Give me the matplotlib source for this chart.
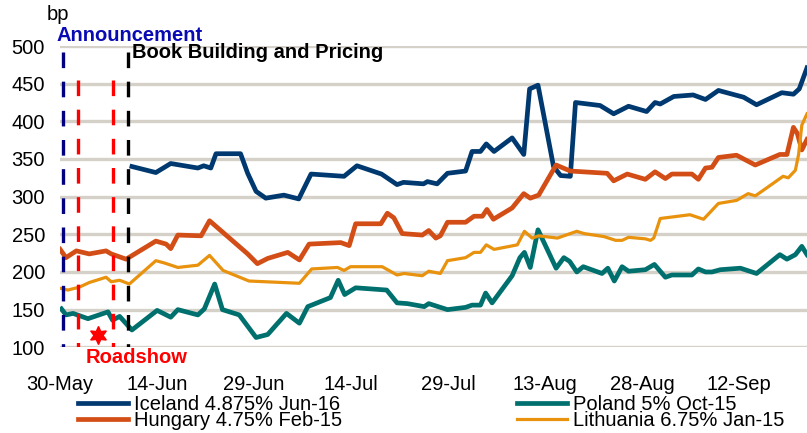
import matplotlib.pyplot as plt

plt.rcParams['font.family'] = ['Liberation Sans', 'DejaVu Sans']

# x = days since 30-May
tick_days = [0, 15, 30, 45, 60, 75, 90, 105]
tick_labels = ["30-May", "14-Jun", "29-Jun", "14-Jul", "29-Jul", "13-Aug", "28-Aug", "12-Sep"]

iceland_day = [11.1, 14.8, 17.1, 21.3, 22.2, 23.3, 24.1, 27.9, 29.0, 30.3, 31.8, 34.6, 36.9,
               38.8, 43.9, 45.9, 49.7, 52.1, 53.1, 56.2, 56.8, 58.3, 59.9, 62.7, 63.7, 65.0,
               65.9, 67.1, 69.9, 71.7, 72.6, 73.9, 76.3, 77.4, 78.9, 79.7, 83.5, 85.6, 87.9,
               90.7, 92.0, 92.8, 94.9, 97.9, 99.8, 101.8, 105.7, 107.7, 111.6, 113.4, 114.3, 115.5]
iceland_bp = [340, 332, 344, 338, 341, 338, 357, 357, 331, 307, 298, 302, 297,
              330, 327, 341, 330, 316, 319, 317, 320, 317, 331, 334, 360, 360,
              370, 360, 378, 356, 443, 448, 340, 328, 327, 425, 421, 410, 420,
              413, 425, 423, 433, 435, 429, 441, 432, 422, 438, 436, 443, 471]

hungary_day = [0, 0.9, 2.5, 4.5, 7.1, 7.9, 10.2, 14.8, 16.4, 17.1, 18.2, 21.8, 23.1, 29.0,
               30.5, 32.1, 35.2, 37.0, 38.5, 43.4, 44.7, 45.7, 49.6, 50.6, 51.6, 52.9, 56.0,
               57.0, 58.1, 58.8, 59.9, 62.7, 64.0, 65.3, 66.0, 67.0, 69.9, 71.7, 72.7, 74.0,
               76.7, 78.9, 84.6, 85.6, 87.7, 90.5, 92.0, 93.6, 94.6, 97.7, 98.7, 99.8, 100.8,
               101.8, 104.6, 107.5, 111.3, 112.4, 113.4, 114.0, 114.7, 115.5]
hungary_bp = [230, 219, 228, 224, 228, 224, 217, 241, 237, 231, 249, 248, 268, 224,
              211, 218, 226, 216, 237, 239, 235, 264, 264, 278, 272, 251, 249,
              255, 245, 248, 266, 266, 274, 274, 283, 270, 285, 304, 298, 302,
              342, 334, 331, 321, 330, 323, 333, 324, 330, 330, 323, 338, 339,
              352, 355, 342, 356, 356, 392, 384, 362, 376]

poland_day = [0.2, 0.9, 2.0, 4.3, 7.4, 8.1, 9.2, 11.1, 15.0, 17.1, 18.2, 21.3, 22.3, 23.9,
              25.1, 27.7, 30.3, 32.1, 35.0, 37.0, 38.3, 41.8, 43.0, 44.0, 45.7, 50.5, 52.1,
              53.7, 56.3, 57.0, 59.9, 62.7, 63.7, 65.0, 65.8, 66.8, 69.9, 71.1, 71.8, 72.7,
              73.9, 76.7, 77.9, 78.8, 79.9, 80.9, 83.8, 84.7, 85.7, 86.9, 87.9, 90.5, 91.9,
              93.6, 94.6, 97.7, 98.7, 99.8, 100.8, 102.1, 105.2, 107.7, 111.3, 112.4, 113.7,
              114.7, 115.5]
poland_bp = [151, 143, 145, 138, 147, 136, 141, 123, 149, 140, 150, 143, 151, 184,
             150, 143, 113, 117, 145, 132, 154, 166, 189, 170, 179, 176, 159,
             158, 154, 158, 150, 153, 156, 156, 172, 159, 195, 219, 226, 206,
             256, 205, 219, 214, 200, 207, 198, 205, 188, 207, 201, 203, 210,
             193, 196, 196, 204, 200, 200, 203, 205, 198, 223, 217, 223,
             234, 223]

lithuania_day = [0.2, 1.2, 3.0, 4.5, 7.1, 7.9, 9.2, 10.7, 14.8, 16.1, 18.2, 21.3, 23.1, 25.2,
                 29.2, 37.0, 38.9, 42.9, 43.9, 44.9, 49.8, 52.1, 53.2, 56.0, 57.0, 58.8, 59.9,
                 62.7, 64.0, 65.0, 65.9, 67.1, 70.7, 71.8, 73.0, 74.0, 76.9, 79.9, 81.0, 84.1,
                 85.9, 86.9, 87.9, 90.5, 91.3, 91.8, 92.8, 97.4, 99.5, 101.8, 104.6, 106.4,
                 107.5, 109.0, 111.8, 112.6, 113.7, 114.2, 114.7, 115.5]
lithuania_bp = [178, 176, 180, 186, 193, 187, 189, 184, 215, 212, 206, 209, 222, 202,
                188, 185, 204, 206, 202, 207, 207, 196, 198, 195, 201, 198, 215,
                219, 226, 226, 236, 230, 236, 254, 245, 248, 245, 254, 251, 247,
                242, 242, 246, 244, 242, 245, 271, 276, 270, 291, 295, 304,
                301, 310, 327, 325, 335, 356, 395, 410]

# event markers (days since 30-May)
announce_day = 0.4
roadshow_days = [2.7, 8.2]
pricing_day = 10.45
star_day, star_bp = 5.8, 116

W, H = 807, 433
fig = plt.figure(figsize=(W / 100, H / 100), dpi=100)
ax = fig.add_axes([59.5 / W, 1 - 347.3 / H, (W - 59.5) / W, (347.3 - 46) / H])


def px(x, y):
    return x / W, 1 - y / H


ax.plot(iceland_day, iceland_bp, color="#00396F", lw=3.4, label="Iceland 4.875% Jun-16", zorder=3)
ax.plot(hungary_day, hungary_bp, color="#D24E16", lw=3.4, label="Hungary 4.75% Feb-15", zorder=3)
ax.plot(poland_day, poland_bp, color="#00706F", lw=3.4, label="Poland 5% Oct-15", zorder=3)
ax.plot(lithuania_day, lithuania_bp, color="#E8920E", lw=2.3, label="Lithuania 6.75% Jan-15", zorder=3)

dash = (11.25 / 2.4, 9.75 / 2.4)
ax.plot([announce_day, announce_day], [492, 100], color="#000080", lw=2.4, dashes=dash, zorder=4)
for d in roadshow_days:
    ax.plot([d, d], [455, 100], color="#FF0000", lw=2.4, dashes=dash, zorder=4)
ax.plot([pricing_day, pricing_day], [492, 100], color="black", lw=2.4, dashes=dash, zorder=4)
ax.plot([star_day], [star_bp], marker=(6, 1, 0), color="#FF0000", ms=13, zorder=5)

ax.set_xlim(-0.1, 115.5)
ax.set_ylim(100, 500)
ax.set_yticks(range(100, 501, 50))
ax.set_xticks(tick_days)
ax.set_xticklabels(tick_labels)
ax.tick_params(length=0, labelsize=14.5)
ax.tick_params(axis="y", pad=10.5)
ax.tick_params(axis="x", pad=20)
ax.yaxis.grid(True, color="#D5D1C9", lw=2.4)
ax.set_axisbelow(True)
for s in ax.spines.values():
    s.set_visible(False)

fig.text(*px(47, 19.5), "bp", fontsize=14.5, va="baseline")
fig.text(*px(56, 41), "Announcement", fontsize=14.5, fontweight="bold", color="#0A0AB4", va="baseline")
fig.text(*px(132, 58.5), "Book Building and Pricing", fontsize=14.5, fontweight="bold", va="baseline")
fig.text(*px(86, 363), "Roadshow", fontsize=14.5, fontweight="bold", color="#FF0000", va="baseline")

fig.legend(loc="upper left", bbox_to_anchor=px(78, 395), ncol=2, frameon=False,
           fontsize=14.5, handlelength=2.5, handletextpad=0.3, labelspacing=-0.15,
           columnspacing=8.65, borderpad=0, borderaxespad=0)

fig.savefig("out.png", dpi=100)
